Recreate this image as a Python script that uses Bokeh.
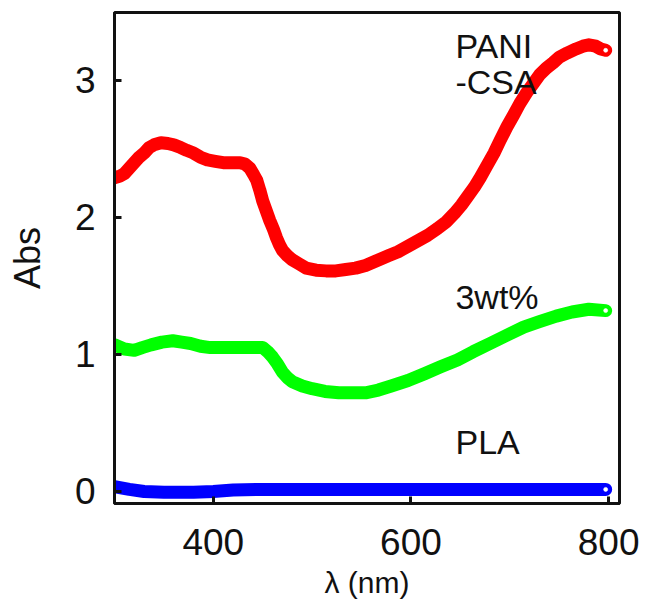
from bokeh.plotting import figure
from bokeh.models import Range1d, FixedTicker, Label
from bokeh.embed import file_html
from bokeh.resources import INLINE

# PANI-CSA (red)
wl_pani = [300, 305, 310, 315, 320, 325, 330, 335, 340, 347, 354, 360, 367, 373, 380, 387, 394, 402,
           410, 418, 427, 432, 437, 441, 444, 447, 450, 454, 457, 461, 464, 467, 470, 475, 480, 487,
           494, 504, 514, 524, 534, 544, 554, 567, 577, 587, 597, 607, 617, 627, 636, 644, 651, 657,
           664, 670, 677, 684, 690, 697, 704, 710, 717, 724, 730, 737, 744, 750, 758, 767, 774, 780,
           787, 792, 797]
abs_pani = [2.29, 2.30, 2.32, 2.36, 2.40, 2.44, 2.47, 2.51, 2.53, 2.545, 2.54, 2.53, 2.51, 2.49, 2.47,
            2.44, 2.42, 2.41, 2.40, 2.40, 2.40, 2.39, 2.36, 2.31, 2.27, 2.20, 2.12, 2.04, 1.98, 1.91,
            1.85, 1.80, 1.76, 1.72, 1.69, 1.66, 1.63, 1.615, 1.61, 1.61, 1.62, 1.63, 1.65, 1.69, 1.72,
            1.75, 1.79, 1.83, 1.87, 1.92, 1.97, 2.03, 2.09, 2.15, 2.22, 2.29, 2.38, 2.47, 2.56, 2.66,
            2.75, 2.83, 2.91, 2.98, 3.04, 3.09, 3.13, 3.17, 3.20, 3.23, 3.25, 3.26, 3.25, 3.23, 3.22]

# 3wt% (green)
wl_3wt = [300, 310, 320, 328, 337, 348, 359, 368, 377, 387, 397, 412, 427, 440, 450, 455, 460, 465,
          470, 475, 480, 490, 500, 513, 527, 540, 554, 567, 580, 597, 614, 630, 647, 663, 680, 697,
          714, 730, 747, 763, 780, 797]
abs_3wt = [1.07, 1.04, 1.03, 1.05, 1.07, 1.09, 1.10, 1.09, 1.08, 1.06, 1.05, 1.05, 1.05, 1.05, 1.05,
           1.02, 0.98, 0.93, 0.87, 0.83, 0.80, 0.77, 0.75, 0.73, 0.72, 0.72, 0.72, 0.74, 0.77, 0.81,
           0.86, 0.91, 0.96, 1.02, 1.08, 1.14, 1.20, 1.24, 1.28, 1.31, 1.33, 1.32]

# PLA (blue)
wl_pla = [300, 315, 330, 350, 380, 400, 420, 450, 500, 600, 700, 797]
abs_pla = [0.035, 0.015, 0.0, -0.005, -0.005, 0.0, 0.01, 0.015, 0.015, 0.015, 0.015, 0.015]

x_ticks = [400, 600, 800]
y_ticks = [0, 1, 2, 3]

FONT = "Liberation Sans"

p = figure(width=646, height=605, output_backend="svg", toolbar_location=None,
           x_range=Range1d(300, 811), y_range=Range1d(-0.088, 3.496),
           min_border_left=114, min_border_right=27, min_border_top=12, min_border_bottom=102)

p.background_fill_color = "white"
p.border_fill_color = "white"
p.outline_line_color = "#111111"
p.outline_line_width = 3
p.xgrid.visible = False
p.ygrid.visible = False

for xs, ys, col in [(wl_pani, abs_pani, "#ff0000"), (wl_3wt, abs_3wt, "#00ff00"), (wl_pla, abs_pla, "#0000ff")]:
    p.line(xs, ys, line_color=col, line_width=13, line_cap="round", line_join="round")
    p.scatter(xs[-1:], ys[-1:], size=4, fill_color="white", line_color="white", line_alpha=0.6)

for ax in (p.xaxis[0], p.yaxis[0]):
    ax.axis_line_color = "#111111"
    ax.axis_line_width = 3
    ax.major_tick_line_color = "#111111"
    ax.major_tick_line_width = 3
    ax.major_tick_out = 0
    ax.major_tick_in = 7
    ax.minor_tick_line_color = None
    ax.major_label_text_font = FONT
    ax.major_label_text_font_size = "37px"
    ax.major_label_text_color = "#111111"
    ax.axis_label_text_font = FONT
    ax.axis_label_text_font_style = "normal"
    ax.axis_label_text_color = "#111111"

p.xaxis.ticker = FixedTicker(ticks=x_ticks)
p.yaxis.ticker = FixedTicker(ticks=y_ticks)
p.xaxis.major_label_standoff = 25
p.yaxis.major_label_standoff = 19
p.xaxis.axis_label = "λ (nm)"
p.xaxis.axis_label_text_font_size = "30px"
p.xaxis.axis_label_standoff = 8
p.yaxis.axis_label = "Abs"
p.yaxis.axis_label_text_font_size = "36px"
p.yaxis.axis_label_standoff = 24

for txt, xv, yv in [("PANI", 645, 3.255), ("-CSA", 645, 2.99), ("3wt%", 645, 1.42), ("PLA", 645, 0.36)]:
    p.add_layout(Label(x=xv, y=yv, text=txt, text_font=FONT, text_font_size="34px",
                       text_color="#111111", text_baseline="alphabetic", text_align="left"))

open("out.html", "w").write(file_html(p, INLINE))
